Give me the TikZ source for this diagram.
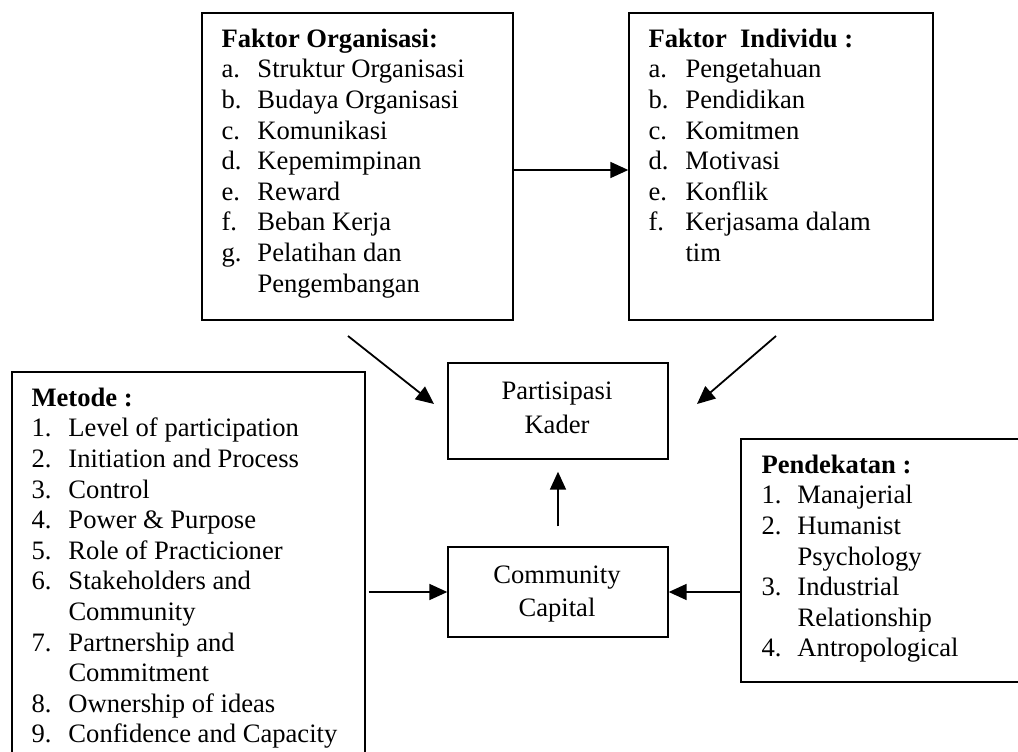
\documentclass[tikz,border=0pt]{standalone}
\usepackage{fontspec}
\setmainfont{Liberation Serif}
\usetikzlibrary{arrows.meta,calc}
\newcommand{\lstfont}{\fontsize{26.6}{30.6}\selectfont}
\begin{document}
\begin{tikzpicture}[x=1pt,y=-1pt,
  frame/.style={draw, line width=1.4pt, inner sep=0pt},
  txt/.style={anchor=base west, inner sep=0pt, font=\lstfont},
  ctxt/.style={anchor=base, inner sep=0pt},
  arr/.style={line width=1.8pt, -{Triangle[length=18pt,width=16pt]}}]
\useasboundingbox (0,0) rectangle (1018,752);
\clip (0,0) rectangle (1018,752);
% boxes
\node[frame, minimum width=311pt, minimum height=307pt] (org) at (357.5,166.5) {};
\node[frame, minimum width=304pt, minimum height=307pt] (ind) at (781,166.5) {};
\node[frame, minimum width=220pt, minimum height=96pt] (part) at (558,411) {};
\node[frame, minimum width=220pt, minimum height=90pt] (comm) at (558,592) {};
\node[frame, minimum width=353pt, minimum height=408pt] (met) at (188.5,576) {};
\node[frame, minimum width=289pt, minimum height=243pt] (pend) at (885.5,560.5) {};
% texts
\node[txt] (orgtxt) at ($(org.north west)+(20,35)$) {\begin{tabular}[t]{@{}p{36pt}@{}l@{}}
\multicolumn{2}{@{}l@{}}{\bfseries Faktor Organisasi:}\\
a. & Struktur Organisasi\\
b. & Budaya Organisasi\\
c. & Komunikasi\\
d. & Kepemimpinan\\
e. & Reward\\
f. & Beban Kerja\\
g. & Pelatihan dan\\
 & Pengembangan
\end{tabular}};
\node[txt] (indtxt) at ($(ind.north west)+(20,35)$) {\begin{tabular}[t]{@{}p{37pt}@{}l@{}}
\multicolumn{2}{@{}l@{}}{\bfseries Faktor\ \ Individu :}\\
a. & Pengetahuan\\
b. & Pendidikan\\
c. & Komitmen\\
d. & Motivasi\\
e. & Konflik\\
f. & Kerjasama dalam\\
 & tim
\end{tabular}};
\node[txt] (mettxt) at ($(met.north west)+(20,35)$) {\begin{tabular}[t]{@{}p{37pt}@{}l@{}}
\multicolumn{2}{@{}l@{}}{\bfseries Metode :}\\
1. & Level of participation\\
2. & Initiation and Process\\
3. & Control\\
4. & Power \& Purpose\\
5. & Role of Practicioner\\
6. & Stakeholders and\\
 & Community\\
7. & Partnership and\\
 & Commitment\\
8. & Ownership of ideas\\
9. & Confidence and Capacity
\end{tabular}};
\node[txt] (pendtxt) at ($(pend.north west)+(21,35)$) {\begin{tabular}[t]{@{}p{36pt}@{}l@{}}
\multicolumn{2}{@{}l@{}}{\bfseries Pendekatan :}\\
1. & Manajerial\\
2. & Humanist\\
 & Psychology\\
3. & Industrial\\
 & Relationship\\
4. & Antropological
\end{tabular}};
\node[ctxt, font=\fontsize{26.6}{34.5}\selectfont] (parttxt) at (557,399) {\begin{tabular}[t]{@{}c@{}}Partisipasi\\Kader\end{tabular}};
\node[ctxt, font=\fontsize{26.6}{33}\selectfont] (commtxt) at (557,583) {\begin{tabular}[t]{@{}c@{}}Community\\Capital\end{tabular}};
% connectors
\coordinate (dl1) at (348,336);
\coordinate (dl2) at (434,404);
\coordinate (dr1) at (776,336);
\coordinate (dr2) at (697,404);
\draw[arr] ([yshift=-3.5pt]org.east) -- ([yshift=-3.5pt]ind.west);
\draw[arr] (dl1) -- (dl2);
\draw[arr] (dr1) -- (dr2);
\draw[arr, shorten <=20pt, shorten >=12pt] (comm.north) -- (part.south);
\draw[arr, shorten <=3pt] (met.east |- comm.west) -- (comm.west);
\draw[arr] (pend.west |- comm.east) -- (comm.east);
\end{tikzpicture}
\end{document}
